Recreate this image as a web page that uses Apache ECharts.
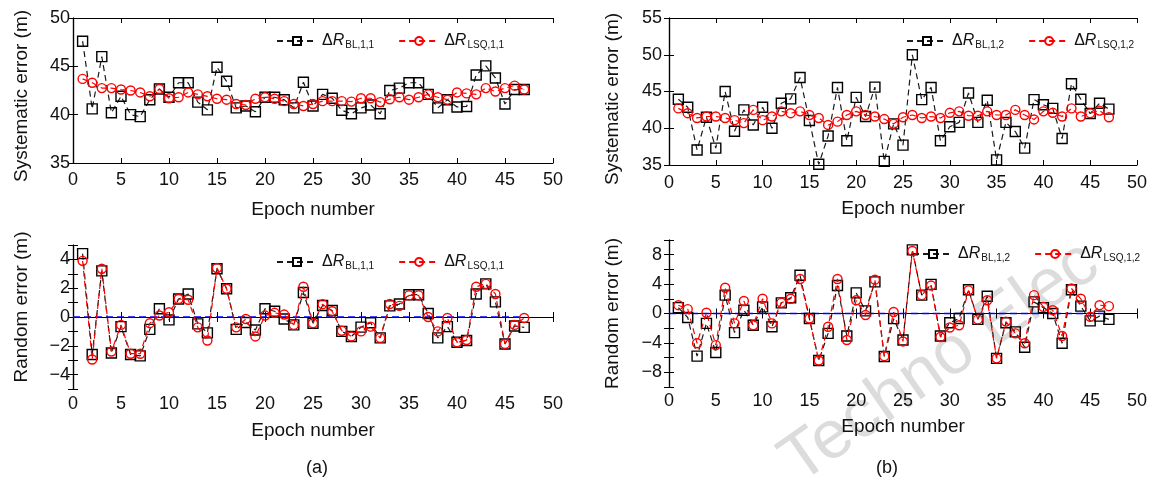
<!DOCTYPE html>
<html>
<head>
<meta charset="utf-8">
<script src="https://cdn.jsdelivr.net/npm/echarts@6.0.0/dist/echarts.min.js"></script>
<style>
html,body{margin:0;padding:0;background:#fff;}
#chart{width:1150px;height:495px;}
</style>
</head>
<body>
<div id="chart"></div>
<script>
// ---------- data ----------
const epochs = [1,2,3,4,5,6,7,8,9,10,11,12,13,14,15,16,17,18,19,20,21,22,23,24,25,26,27,28,29,30,31,32,33,34,35,36,37,38,39,40,41,42,43,44,45,46,47];
const xTicks = [0,5,10,15,20,25,30,35,40,45,50];

// (a) systematic error, satellite 1,1
const sysBL11  = [47.6,40.6,46.0,40.2,41.9,40.0,39.8,41.55,42.65,41.8,43.3,43.3,41.3,40.5,44.9,43.45,40.7,40.9,40.3,41.8,41.8,41.55,40.7,43.35,40.9,42.1,41.7,40.45,40.1,40.7,41.0,40.1,42.5,42.75,43.3,43.3,42.1,40.7,41.55,40.8,40.85,44.1,45.05,43.8,41.1,42.6,42.6];
const sysLSQ11 = [43.7,43.3,42.75,42.75,42.6,42.5,42.3,41.9,42.65,41.7,41.8,42.3,42.1,41.9,41.65,41.55,41.1,41.0,41.65,41.8,41.65,41.4,41.1,40.9,41.1,41.4,41.4,41.4,41.35,41.7,41.7,41.3,41.6,41.8,41.55,41.8,42.1,41.8,41.55,42.3,42.2,42.1,42.75,42.4,42.75,43.0,42.6];
// (a) random error, satellite 1,1
const randBL11  = [4.4,-2.6,3.2,-2.5,-0.67,-2.6,-2.7,-0.86,0.57,-0.2,1.25,1.6,-0.48,-1.1,3.35,1.96,-0.86,-0.38,-0.9,0.57,0.4,-0.14,-0.55,1.7,-0.43,0.8,0.45,-1.0,-1.35,-0.7,-0.4,-1.45,0.77,0.9,1.55,1.55,0.24,-1.45,-0.67,-1.75,-1.63,1.6,2.3,1.05,-1.87,-0.62,-0.72];
const randLSQ11 = [3.9,-2.95,3.35,-2.4,-0.55,-2.55,-2.55,-0.43,0.1,0.33,1.25,1.2,-0.72,-1.63,3.4,1.96,-0.72,-0.14,-1.35,0.1,0.29,0.17,-0.55,2.1,-0.43,0.89,0.4,-0.96,-1.35,-1.0,-0.67,-1.45,0.9,0.77,1.5,1.5,0.0,-1.0,-0.07,-1.75,-1.6,2.1,2.3,1.6,-1.87,-0.55,-0.07];
// (b) systematic error, satellite 1,2
const sysBL12  = [43.95,42.86,37.05,41.5,37.3,45.0,39.6,42.5,40.45,42.86,40.0,43.4,44.0,46.9,41.05,35.1,38.95,45.55,38.3,44.2,41.6,45.6,35.5,40.6,37.7,50.0,43.9,45.55,38.3,40.2,40.8,44.8,40.8,43.8,35.7,40.8,39.55,37.3,43.9,43.2,42.7,38.6,46.05,43.95,42.0,43.4,42.6];
const sysLSQ12 = [42.7,42.05,41.4,41.6,41.6,41.4,41.1,40.7,42.5,41.1,41.6,42.3,42.05,42.3,41.8,41.4,40.45,40.9,41.8,42.3,41.8,41.6,41.25,40.6,41.5,41.8,41.4,41.6,41.4,42.1,42.3,41.7,41.7,42.3,41.8,41.8,42.5,41.8,41.2,42.3,42.1,41.6,42.7,41.6,42.05,42.4,41.5];
// (b) random error, satellite 1,2
const randBL12  = [0.8,-0.54,-5.8,-1.35,-5.3,2.5,-2.6,0.45,-1.6,0.9,-1.8,1.45,2.15,5.2,-0.68,-6.4,-2.7,3.8,-3.06,2.8,0.36,4.3,-5.85,-0.7,-3.6,8.65,2.5,3.96,-3.06,-1.26,-0.68,3.24,-0.8,2.34,-6.1,-1.26,-2.5,-4.6,1.58,0.8,0.0,-4.05,3.24,1.0,-1.0,-0.36,-0.8];
const randLSQ12 = [1.13,0.6,-4.05,0.1,-4.3,3.5,-1.35,1.7,-1.6,2.0,-1.35,1.45,2.0,4.7,-0.68,-6.4,-1.8,4.7,-3.6,1.8,-0.2,4.6,-5.8,0.2,-3.8,8.5,2.5,3.8,-3.2,-1.9,-1.6,3.15,-0.8,1.8,-6.1,-1.1,-2.7,-4.05,2.5,0.9,0.45,-3.06,3.4,2.0,-0.45,1.13,1.0];

// zero reference line in the random-error panels
const zeroX = [0, 47];
const zeroY = [0, 0];

// legend names and subscripts
const legendNames = ['BL11','LSQ11','BL12','LSQ12'];
const legendSubs  = {BL11:'BL,1,1', LSQ11:'LSQ,1,1', BL12:'BL,1,2', LSQ12:'LSQ,1,2'};

// ---------- chart ----------
const FONT = 'Liberation Sans, Arial, Helvetica, sans-serif';
const TXT = '#111';
const pairs = (xs, ys) => xs.map((x, i) => [x, ys[i]]);
const minus = v => (v < 0 ? '\u2212' + Math.abs(v) : String(v));

const grids = [
  {left:73,  top:18,  width:480, height:145},
  {left:73,  top:245, width:480, height:144},
  {left:669, top:18,  width:468, height:147},
  {left:669, top:240, width:468, height:147}
];
const yCfg = [
  {min:35, max:50, interval:5, name:'Systematic error (m)', gap:42, margin:3, pad:[0,11,0,0], fmt: v => String(v)},
  {min:-5, max:5,  interval:1, name:'Random error (m)',     gap:42, margin:3, pad:[0,0,0,20], fmt: v => (v % 2 === 0 && Math.abs(v) < 5 ? minus(v) : '')},
  {min:35, max:55, interval:5, name:'Systematic error (m)', gap:47, margin:7, pad:[0,15,0,0], fmt: v => String(v)},
  {min:-10,max:10, interval:2, name:'Random error (m)',     gap:47, margin:7, pad:[0,0,0,0], fmt: v => (v % 4 === 0 && Math.abs(v) < 10 ? minus(v) : '')}
];
const xCfg = [
  {margin:8, gap:37},
  {margin:6, gap:32},
  {margin:9, gap:34},
  {margin:5, gap:30}
];

const tick = {show:true, inside:true, length:5, lineStyle:{color:'#000', width:1}};
const xAxes = [], yAxes = [];
grids.forEach((g, i) => {
  xAxes.push({
    type:'value', gridIndex:i, position:'bottom', min:0, max:50, interval:5,
    axisLine:{show:true, lineStyle:{color:'#000', width:1.2}}, axisTick:tick, splitLine:{show:false},
    axisLabel:{show:true, color:TXT, fontSize:18, fontFamily:FONT, margin:xCfg[i].margin,
      formatter: v => (xTicks.indexOf(v) >= 0 ? String(v) : '')},
    name:'Epoch number', nameLocation:'middle', nameGap:xCfg[i].gap,
    nameTextStyle:{color:TXT, fontSize:19, fontFamily:FONT}
  });
  xAxes.push({
    type:'value', gridIndex:i, position:'top', min:0, max:50, interval:5,
    axisLine:{show:true, lineStyle:{color:'#000', width:1.2}}, axisTick:tick, splitLine:{show:false},
    axisLabel:{show:false}
  });
  const c = yCfg[i];
  yAxes.push({
    type:'value', gridIndex:i, position:'left', min:c.min, max:c.max, interval:c.interval,
    axisLine:{show:true, lineStyle:{color:'#000', width:1.2}}, axisTick:tick, splitLine:{show:false},
    axisLabel:{show:true, color:TXT, fontSize:18, fontFamily:FONT, margin:c.margin, formatter:c.fmt},
    name:c.name, nameLocation:'middle', nameGap:c.gap,
    nameTextStyle:{color:TXT, fontSize:19, fontFamily:FONT, padding:c.pad}
  });
  yAxes.push({
    type:'value', gridIndex:i, position:'right', min:c.min, max:c.max, interval:c.interval,
    axisLine:{show:true, lineStyle:{color:'#000', width:1.2}}, axisTick:tick, splitLine:{show:false},
    axisLabel:{show:false}
  });
});

function blSeries(name, i, ys){
  return {
    type:'line', name:name, xAxisIndex:2*i, yAxisIndex:2*i, data:pairs(epochs, ys),
    symbol:'rect', symbolSize:10, showAllSymbol:true,
    lineStyle:{color:'#1a1a1a', width:1.2, type:[6,4]},
    itemStyle:{color:'rgba(255,255,255,0)', borderColor:'#000', borderWidth:1.4},
    emphasis:{disabled:true}, z:3
  };
}
function lsqSeries(name, i, ys){
  return {
    type:'line', name:name, xAxisIndex:2*i, yAxisIndex:2*i, data:pairs(epochs, ys),
    symbol:'circle', symbolSize:9, showAllSymbol:true,
    lineStyle:{color:'#ff0000', width:1.2, type:[6,4]},
    itemStyle:{color:'rgba(255,255,255,0)', borderColor:'#ff0000', borderWidth:1.4},
    emphasis:{disabled:true}, z:4
  };
}
function zeroSeries(i){
  return {
    type:'line', xAxisIndex:2*i, yAxisIndex:2*i, data:pairs(zeroX, zeroY),
    symbol:'none', lineStyle:{color:'#0000ff', width:1.5, type:[7,4]},
    emphasis:{disabled:true}, z:2
  };
}

const series = [
  blSeries('BL11', 0, sysBL11),  lsqSeries('LSQ11', 0, sysLSQ11),
  zeroSeries(1),
  blSeries('BL11', 1, randBL11), lsqSeries('LSQ11', 1, randLSQ11),
  blSeries('BL12', 2, sysBL12),  lsqSeries('LSQ12', 2, sysLSQ12),
  zeroSeries(3),
  blSeries('BL12', 3, randBL12), lsqSeries('LSQ12', 3, randLSQ12)
];

const legendRich = {
  d:{fontSize:16, fontFamily:FONT, color:TXT},
  r:{fontSize:16, fontFamily:FONT, color:TXT, fontStyle:'italic'},
  s:{fontSize:10, fontFamily:FONT, color:TXT, padding:[8,0,0,1]}
};
function legend(names, left, top){
  return {
    data:names, left:left, top:top, orient:'horizontal', itemWidth:40, itemHeight:10, itemGap:24,
    selectedMode:false, padding:0,
    formatter: n => '{d|\u0394}{r|R}{s|' + legendSubs[n] + '}',
    textStyle:{color:TXT, fontSize:16, fontFamily:FONT, rich:legendRich}
  };
}

const option = {
  animation:false,
  backgroundColor:'#fff',
  grid: grids.map(g => Object.assign({containLabel:false, show:false}, g)),
  xAxis:xAxes, yAxis:yAxes, series:series,
  legend:[
    legend([legendNames[0], legendNames[1]], 276, 33),
    legend([legendNames[0], legendNames[1]], 276, 254),
    legend([legendNames[2], legendNames[3]], 906, 33),
    legend([legendNames[2], legendNames[3]], 912, 246)
  ],
  graphic:[
    {type:'text', left:306, top:459, z:10, style:{text:'(a)', fill:TXT, font:'18px ' + FONT}},
    {type:'text', left:876, top:459, z:10, style:{text:'(b)', fill:TXT, font:'18px ' + FONT}},
    {type:'text', x:808, y:497, rotation:35*Math.PI/180, z:0, silent:true,
      style:{text:'Techno Elec', fill:'#dcdcdc', font:'68px ' + FONT, textVerticalAlign:'bottom'}}
  ]
};

const chart = echarts.init(document.getElementById('chart'), null, {renderer:'canvas'});
chart.setOption(option);
</script>
</body>
</html>
